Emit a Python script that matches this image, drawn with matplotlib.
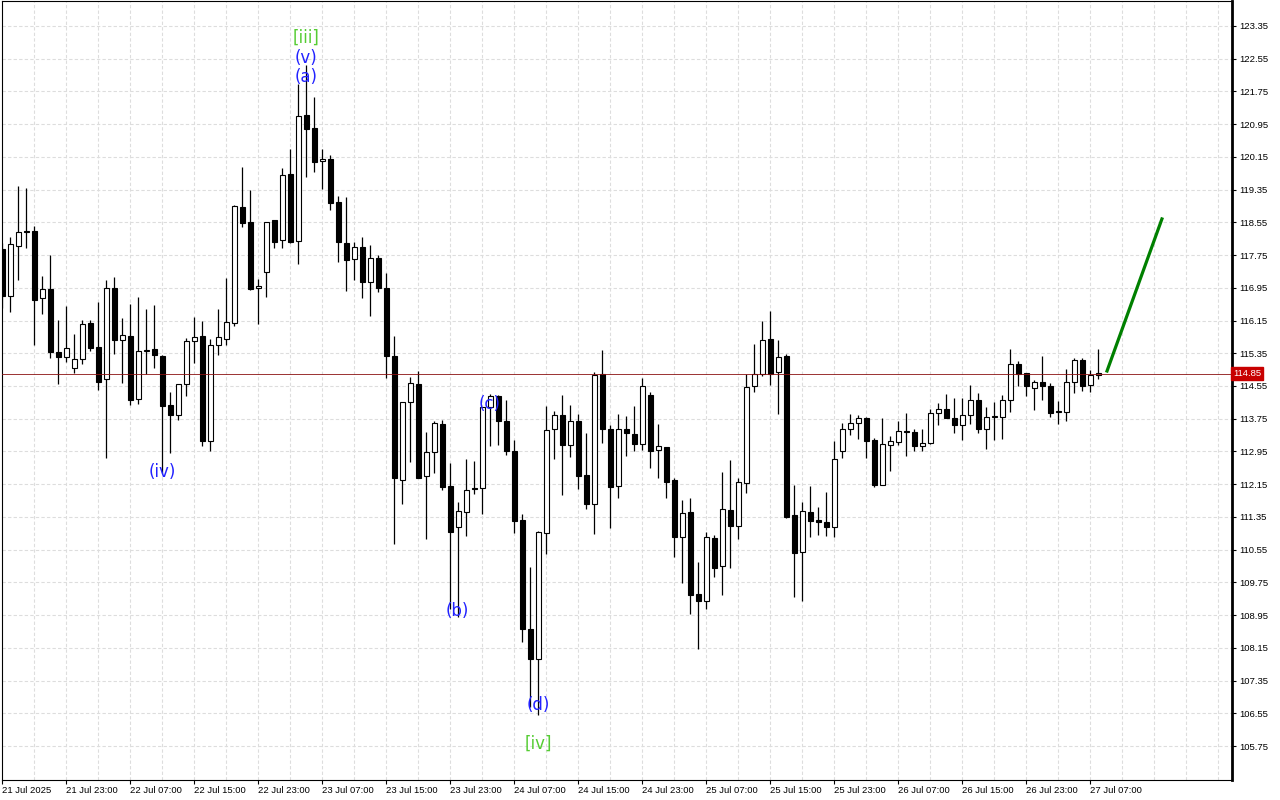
import matplotlib
matplotlib.use("Agg")
import matplotlib.pyplot as plt
import matplotlib.transforms as mtrans
import numpy as np

# hourly candles, first one is 21 Jul 15:00
opens = [117.91, 116.75, 117.97, 118.34, 118.35, 116.69, 116.93, 115.37, 115.26, 114.99,
         115.21, 116.10, 115.50, 114.71, 116.94, 115.67, 115.76, 114.23, 115.41, 115.45,
         115.28, 114.08, 113.83, 114.59, 115.64, 115.76, 113.21, 115.55, 115.70, 116.08,
         118.92, 118.55, 116.94, 117.33, 118.60, 118.11, 119.72, 118.09, 121.18, 120.86,
         120.04, 120.10, 119.04, 118.05, 117.65, 117.94, 117.08, 117.67, 116.94, 115.28,
         112.25, 114.15, 114.59, 112.34, 112.93, 113.62, 112.11, 111.10, 111.46, 112.06,
         112.05, 114.03, 114.31, 113.69, 112.95, 111.27, 108.60, 107.87, 110.95, 113.49,
         113.83, 113.10, 113.69, 112.37, 111.66, 114.85, 113.49, 112.11, 113.49, 113.37,
         113.14, 114.33, 112.98, 113.05, 112.25, 110.85, 111.46, 109.46, 109.29, 110.83,
         110.16, 111.51, 111.14, 112.19, 114.54, 114.85, 115.69, 114.88, 115.28, 111.39,
         110.50, 111.46, 111.27, 111.22, 111.11, 112.97, 113.49, 113.64, 113.77, 113.23,
         112.13, 113.12, 113.19, 113.45, 113.43, 113.09, 113.15, 113.88, 113.98, 113.78,
         113.59, 113.83, 114.22, 113.49, 113.80, 113.80, 114.20, 115.09, 114.86, 114.49,
         114.64, 114.54, 113.94, 113.92, 114.64, 115.18, 114.57, 114.82]
highs = [118.05, 118.18, 119.43, 119.38, 118.47, 117.25, 117.76, 116.17, 116.50, 115.83,
         116.17, 116.17, 116.60, 117.14, 117.21, 116.20, 116.55, 116.72, 116.43, 116.53,
         115.30, 114.40, 114.60, 115.72, 116.24, 116.14, 115.70, 116.42, 117.19, 118.97,
         119.91, 119.33, 117.16, 118.57, 118.60, 119.88, 120.35, 121.93, 122.40, 121.62,
         120.34, 120.19, 119.20, 119.18, 118.07, 118.19, 117.99, 117.75, 117.31, 115.77,
         114.17, 114.76, 114.92, 113.42, 113.70, 113.72, 112.66, 111.71, 112.77, 112.72,
         114.03, 114.35, 114.33, 114.22, 113.23, 111.42, 110.12, 111.00, 114.06, 113.94,
         114.33, 114.08, 113.87, 113.39, 114.88, 115.43, 113.60, 113.87, 113.82, 114.06,
         114.75, 114.41, 113.62, 113.05, 112.30, 111.76, 111.81, 110.25, 110.98, 110.91,
         112.44, 112.73, 112.29, 114.84, 115.58, 116.14, 116.38, 115.67, 115.33, 112.13,
         111.71, 112.11, 111.59, 111.96, 113.21, 113.65, 113.87, 113.84, 113.79, 113.27,
         113.76, 113.32, 113.69, 113.88, 113.49, 113.49, 114.00, 114.13, 114.35, 114.25,
         114.25, 114.57, 114.37, 114.03, 114.15, 114.33, 115.46, 115.16, 114.87, 114.70,
         115.29, 114.62, 114.18, 114.97, 115.24, 115.24, 114.93, 115.46]
lows = [116.45, 116.36, 117.14, 117.92, 115.55, 116.31, 115.24, 114.60, 115.13, 114.87,
        115.08, 115.40, 114.45, 112.80, 115.32, 114.63, 114.09, 114.12, 114.84, 115.00,
        112.42, 112.92, 113.73, 114.31, 115.11, 113.09, 112.95, 115.30, 115.55, 116.02,
        118.44, 116.90, 116.07, 116.73, 117.93, 117.93, 118.05, 117.54, 119.67, 119.79,
        119.37, 118.86, 117.57, 116.88, 117.13, 116.71, 116.25, 116.84, 114.74, 110.68,
        111.66, 112.70, 112.29, 110.82, 112.42, 112.00, 109.10, 108.90, 110.89, 111.90,
        111.41, 113.08, 113.11, 112.86, 110.95, 108.30, 106.71, 106.51, 110.44, 112.77,
        111.89, 112.82, 112.04, 111.54, 110.93, 113.15, 111.09, 111.82, 112.85, 112.97,
        112.99, 112.55, 112.29, 111.82, 110.38, 109.74, 108.98, 108.13, 109.09, 109.89,
        109.43, 110.11, 110.82, 111.94, 114.41, 114.80, 114.58, 113.87, 111.33, 109.40,
        109.30, 110.87, 110.91, 110.89, 110.87, 112.80, 113.35, 113.26, 112.79, 112.09,
        112.12, 112.48, 113.12, 112.84, 112.95, 112.95, 113.14, 113.60, 113.76, 113.41,
        113.23, 113.61, 113.41, 113.00, 113.23, 113.25, 113.92, 114.56, 114.31, 113.96,
        114.21, 113.79, 113.61, 113.70, 114.37, 114.44, 114.41, 114.72]
closes = [116.75, 118.01, 118.32, 118.32, 116.65, 116.93, 115.38, 115.26, 115.49, 115.21,
          116.07, 115.48, 114.65, 116.94, 115.68, 115.79, 114.22, 115.41, 115.43, 115.30,
          114.07, 113.85, 114.59, 115.64, 115.75, 113.21, 115.55, 115.75, 116.11, 118.95,
          118.54, 116.92, 116.99, 118.57, 118.08, 119.70, 118.07, 121.14, 120.82, 120.03,
          120.10, 119.02, 118.06, 117.64, 117.94, 117.08, 117.67, 116.95, 115.28, 112.30,
          114.17, 114.62, 112.31, 112.93, 113.65, 112.09, 110.97, 111.49, 112.02, 112.04,
          114.03, 114.31, 113.70, 112.97, 111.26, 108.60, 107.87, 110.97, 113.47, 113.83,
          113.12, 113.69, 112.36, 111.66, 114.82, 113.49, 112.09, 113.51, 113.41, 113.14,
          114.54, 112.97, 113.08, 112.21, 110.87, 111.44, 109.43, 109.30, 110.85, 110.11,
          111.54, 111.14, 112.20, 114.52, 114.85, 115.67, 114.85, 115.25, 111.35, 110.48,
          111.49, 111.26, 111.23, 111.11, 112.76, 113.49, 113.64, 113.76, 113.21, 112.13,
          113.13, 113.20, 113.44, 113.43, 113.09, 113.16, 113.88, 113.98, 113.78, 113.59,
          113.83, 114.22, 113.49, 113.80, 113.81, 114.20, 115.09, 114.85, 114.56, 114.64,
          114.54, 113.90, 113.91, 114.64, 115.18, 114.56, 114.81, 114.86]

last_price = 114.85
# projected move drawn in green
proj_x = [138, 145]
proj_y = [114.88, 118.67]

price_ticks = [105.75, 106.55, 107.35, 108.15, 108.95, 109.75, 110.55, 111.35, 112.15,
               112.95, 113.75, 114.55, 115.35, 116.15, 116.95, 117.75, 118.55, 119.35,
               120.15, 120.95, 121.75, 122.55, 123.35]
time_ticks = list(range(0, 137, 8))
time_labels = ["21 Jul 2025", "21 Jul 23:00", "22 Jul 07:00", "22 Jul 15:00", "22 Jul 23:00",
               "23 Jul 07:00", "23 Jul 15:00", "23 Jul 23:00", "24 Jul 07:00", "24 Jul 15:00",
               "24 Jul 23:00", "25 Jul 07:00", "25 Jul 15:00", "25 Jul 23:00", "26 Jul 07:00",
               "26 Jul 15:00", "26 Jul 23:00", "27 Jul 07:00"]

# wave marks
wave_text = ["[iii]", "(v)", "(a)", "(iv)", "(b)", "(c)", "(d)", "[iv]"]
wave_x = [38, 38, 38, 20, 56.8, 60.9, 67, 67]
wave_y = [123.06, 122.57, 122.10, 112.45, 109.05, 114.11, 106.75, 105.80]
wave_col = ["#55cc33", "#2222ff", "#2222ff", "#2222ff", "#2222ff", "#2222ff", "#2222ff", "#55cc33"]

fig = plt.figure(figsize=(12.8, 8), dpi=100)
ax = fig.add_axes([2 / 1280, 20 / 800, 1230 / 1280, 779 / 800])

ax.set_xlim(-0.06, 153.69)
ax.set_ylim(104.92, 123.96)

# grid
for k in range(4, 154, 4):
    ax.axvline(k, color="#dddddd", lw=0.8, ls=(0, (3, 2)), zorder=0)
for p in price_ticks:
    ax.axhline(p, color="#dddddd", lw=0.8, ls=(0, (3, 2)), zorder=0)

# candles
x = np.arange(len(opens))
o = np.array(opens)
c = np.array(closes)
ax.vlines(x, lows, highs, color="black", lw=0.9, zorder=2)
bottoms = np.minimum(o, c)
heights = np.maximum(np.abs(c - o), 0.02)
cols = ["white" if cc > oo else "black" for oo, cc in zip(o, c)]
ax.bar(x, heights, bottom=bottoms, width=0.56, color=cols, edgecolor="black", lw=0.8, zorder=3)

ax.axhline(last_price, color="#8a1010", lw=0.6, zorder=4)
ax.plot(proj_x, proj_y, color="#008000", lw=2.3, zorder=5, solid_capstyle="butt")

for t, wx, wy, col in zip(wave_text, wave_x, wave_y, wave_col):
    ax.text(wx, wy, t, color=col, fontsize=12, ha="center", va="center", zorder=6)

# axes look
ax.yaxis.tick_right()
ax.set_yticks(price_ticks)
ax.set_yticklabels(["%.2f" % p for p in price_ticks], fontsize=6.8, family="Liberation Sans")
ax.tick_params(axis="y", direction="out", length=3, width=0.8, pad=2)
ax.set_xticks(time_ticks)
ax.set_xticklabels(time_labels, fontsize=6.8, family="Liberation Sans", ha="left")
ax.tick_params(axis="x", direction="out", length=3, width=0.8, pad=1)
for s in ax.spines.values():
    s.set_color("black")
    s.set_linewidth(0.8)
ax.spines["right"].set_linewidth(2.0)

trans = mtrans.blended_transform_factory(ax.transAxes, ax.transData)
ax.text(1.0008, last_price, "114.85", transform=trans, fontsize=6.8, family="Liberation Sans",
        color="white", ha="left", va="center", zorder=7,
        bbox=dict(boxstyle="square,pad=0.22", fc="#c80000", ec="#c80000"))

fig.savefig("out.png", dpi=100)
